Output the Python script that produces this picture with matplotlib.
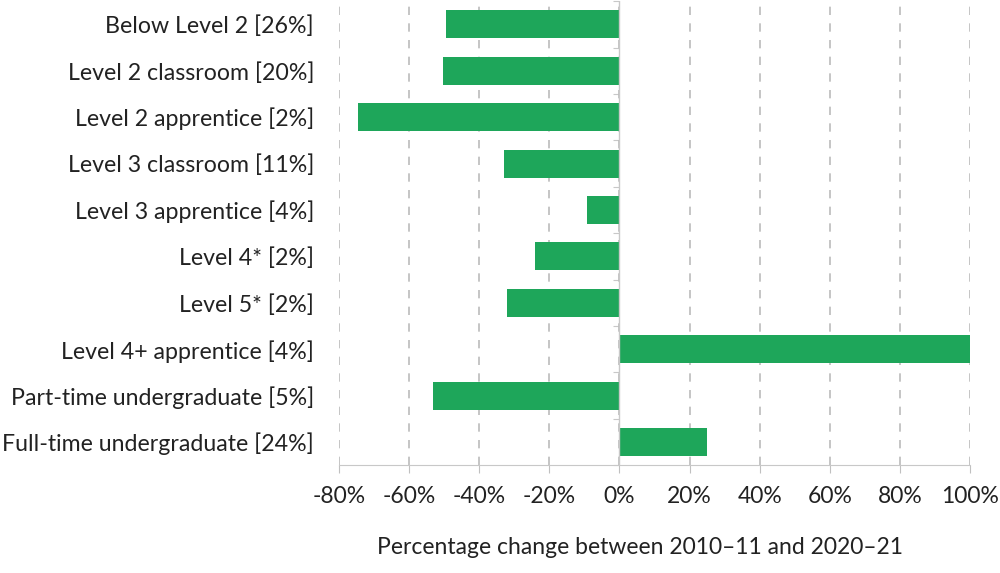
import matplotlib.pyplot as plt
import numpy as np

categories = ["Below Level 2 [26%]", "Level 2 classroom [20%]", "Level 2 apprentice [2%]",
              "Level 3 classroom [11%]", "Level 3 apprentice [4%]", "Level 4* [2%]",
              "Level 5* [2%]", "Level 4+ apprentice [4%]", "Part-time undergraduate [5%]",
              "Full-time undergraduate [24%]"]
changes = [-49.5, -50.3, -74.5, -32.8, -9.2, -24.0, -32.2, 100.0, -53.3, 25.0]
xticks = [-80, -60, -40, -20, 0, 20, 40, 60, 80, 100]

plt.rcParams['font.family'] = ['Lato', 'DejaVu Sans']

fig = plt.figure(figsize=(10, 5.73), dpi=100)
ax = fig.add_axes([0.339, 0.188, 0.631, 0.81])

y = np.arange(len(categories))
ax.barh(y, changes, height=0.6, color="#1ea65a", zorder=3)

ax.set_xlim(-80, 100)
ax.set_ylim(len(categories) - 0.5, -0.5)
ax.set_xticks(xticks)
ax.set_xticklabels([f"{t}%" for t in xticks], fontsize=16.5, color="#222222")
ax.set_yticks(y)
ax.set_yticklabels(categories, fontsize=16.7, color="#222222")
ax.tick_params(axis="y", length=0, pad=18)
ax.tick_params(axis="x", length=6, color="#c0c0c0", pad=9)

ax.grid(axis="x", linestyle=(0, (5, 5)), color="#bbbbbb", linewidth=1.2, zorder=0)
for s in ["top", "right", "left"]:
    ax.spines[s].set_visible(False)
ax.spines["bottom"].set_color("#c8c8c8")

# category axis at zero with boundary ticks
ax.axvline(0, color="#c8c8c8", linewidth=1, zorder=4)
sec = ax.secondary_yaxis(80 / 180)
sec.set_yticks(np.arange(len(categories) + 1) - 0.5)
sec.set_yticklabels([])
sec.tick_params(length=4, color="#c8c8c8")
sec.spines["left"].set_visible(False)

ax.set_xlabel("Percentage change between 2010\u201311 and 2020\u201321", fontsize=16.5,
              color="#222222")
ax.xaxis.set_label_coords(0.477, -0.155)

fig.savefig("out.png", dpi=100)
